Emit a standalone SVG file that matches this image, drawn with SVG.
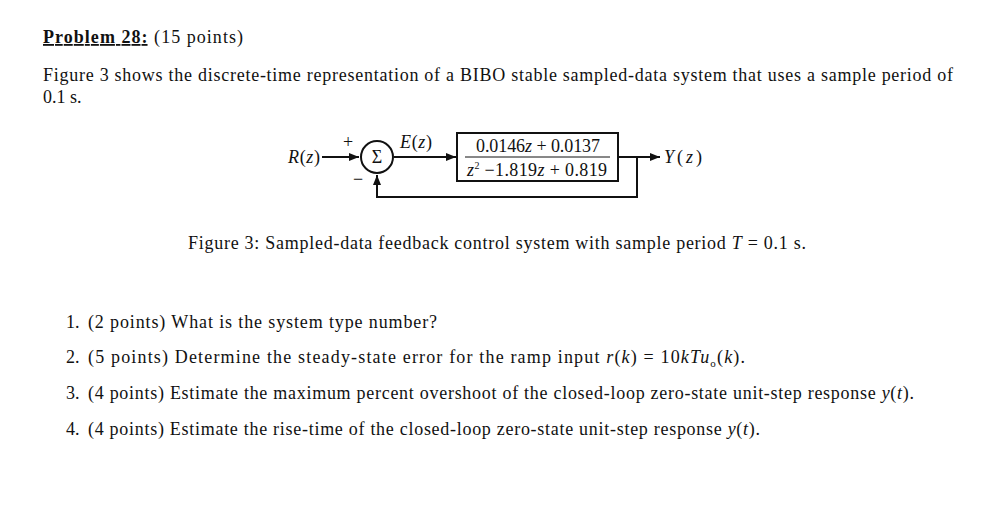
<svg xmlns="http://www.w3.org/2000/svg" width="1007" height="511" viewBox="0 0 1007 511">
<style>
.t{font-family:"Liberation Serif",serif;font-size:18px;fill:#111}
.d{font-family:"Liberation Serif",serif;font-size:18px;fill:#111}
.i{font-style:italic}
.l{stroke:#111;stroke-width:2;fill:none}
</style>
<defs><marker id="a" markerWidth="10" markerHeight="8" refX="10" refY="4" orient="auto" markerUnits="userSpaceOnUse"><path d="M0,0L10,4L0,8z" fill="#111"/></marker></defs>
<rect width="1007" height="511" fill="#fff"/>
<text class="t" x="43" y="43" textLength="200"><tspan font-weight="bold" text-decoration="underline">Problem 28:</tspan> (15 points)</text>
<text class="t" x="43" y="81" textLength="910">Figure 3 shows the discrete-time representation of a BIBO stable sampled-data system that uses a sample period of</text>
<text class="t" x="43" y="103">0.1 s.</text>
<g id="connectors">
<line class="l" x1="322" y1="157" x2="359" y2="157" marker-end="url(#a)"/>
<line class="l" x1="394" y1="157" x2="456" y2="157" marker-end="url(#a)"/>
<line class="l" x1="618" y1="157" x2="660" y2="157" marker-end="url(#a)"/>
<polyline class="l" points="637,157 637,197 377,197 377,175" marker-end="url(#a)"/>
</g>
<g id="sum"><circle class="l" cx="377" cy="157" r="16"/><text class="d" x="377" y="163" text-anchor="middle" font-size="14">Σ</text></g>
<g id="plant"><rect class="l" x="457" y="133" width="161" height="48"/>
<line x1="465" y1="157" x2="610" y2="157" stroke="#111" stroke-width="1"/>
<text class="d" x="476" y="152" textLength="124">0.0146<tspan class="i">z</tspan> + 0.0137</text>
<text class="d" x="467" y="176" textLength="140"><tspan class="i">z</tspan><tspan font-size="10" dy="-7">2</tspan><tspan dy="7"> −1.819</tspan><tspan class="i">z</tspan> + 0.819</text></g>
<text class="d" x="288" y="163" textLength="32"><tspan class="i">R</tspan>(<tspan class="i">z</tspan>)</text>
<text class="d" x="343" y="148" font-size="13">+</text>
<text class="d" x="353" y="185" font-size="14">−</text>
<text class="d" x="400" y="148" textLength="32"><tspan class="i">E</tspan>(<tspan class="i">z</tspan>)</text>
<text class="d" x="664" y="163" textLength="38"><tspan class="i">Y</tspan>(<tspan class="i">z</tspan>)</text>
<text class="t" x="188" y="249" textLength="618">Figure 3: Sampled-data feedback control system with sample period <tspan class="i">T</tspan> = 0.1 s.</text>
<text class="t" x="66" y="328">1.</text><text class="t" x="88" y="328" textLength="349">(2 points) What is the system type number?</text>
<text class="t" x="66" y="363">2.</text><text class="t" x="88" y="363" textLength="657">(5 points) Determine the steady-state error for the ramp input <tspan class="i">r</tspan>(<tspan class="i">k</tspan>) = 10<tspan class="i">kTu</tspan><tspan font-size="11" dy="4">o</tspan><tspan dy="-4">(</tspan><tspan class="i">k</tspan>).</text>
<text class="t" x="66" y="399">3.</text><text class="t" x="88" y="399" textLength="826">(4 points) Estimate the maximum percent overshoot of the closed-loop zero-state unit-step response <tspan class="i">y</tspan>(<tspan class="i">t</tspan>).</text>
<text class="t" x="66" y="435">4.</text><text class="t" x="88" y="435" textLength="672">(4 points) Estimate the rise-time of the closed-loop zero-state unit-step response <tspan class="i">y</tspan>(<tspan class="i">t</tspan>).</text>
</svg>
